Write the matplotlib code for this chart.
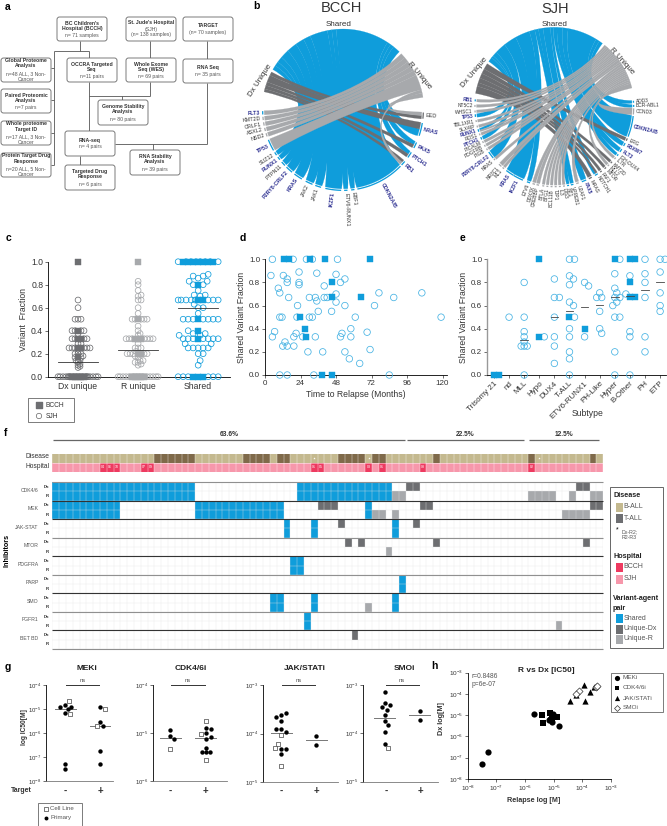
import numpy as np
import matplotlib
matplotlib.use('Agg')
import matplotlib.pyplot as plt
from matplotlib.path import Path
from matplotlib.patches import PathPatch, FancyBboxPatch, Rectangle
from matplotlib.colors import ListedColormap

plt.rcParams['font.family'] = ['Liberation Sans', 'DejaVu Sans']
plt.rcParams['mathtext.default'] = 'regular'
plt.rcParams['axes.linewidth'] = 0.6

W, H = 667, 826
BLUE = '#0f9ddb'
DARK = '#6d6e71'
LIGHT = '#a7a9ac'
TXT = '#333333'
DRIVER = '#2e3192'

# panel a
FLOW_BOXES = [
    (57, 17, 107, 41, 'BC Children\'s\nHospital (BCCH)', 'n= 71 samples'),
    (126, 17, 176, 41, 'St. Jude\'s Hospital', '(SJH)\n(n= 138 samples)'),
    (183, 17, 233, 41, 'TARGET', '(n= 70 samples)'),
    (183, 59, 233, 83, 'RNA Seq', 'n= 35 pairs'),
    (67, 58, 117, 82, 'OCCRA Targeted\nSeq', 'n=11 pairs'),
    (126, 58, 176, 82, 'Whole Exome\nSeq (WES)', 'n= 69 pairs'),
    (98, 100, 148, 125, 'Genome Stability\nAnalysis', 'n= 80 pairs'),
    (1, 58, 51, 82, 'Global Proteome\nAnalysis', 'n=48 ALL, 3 Non-\nCancer'),
    (1, 89, 51, 113, 'Paired Proteomic\nAnalysis', 'n=7 pairs'),
    (1, 121, 51, 145, 'Whole proteome\nTarget ID', 'n=17 ALL, 3 Non-\nCancer'),
    (1, 153, 51, 177, 'Protein Target Drug\nResponse', 'n=20 ALL, 5 Non-\nCancer'),
    (65, 131, 115, 156, 'RNA-seq', 'n= 4 pairs'),
    (65, 165, 115, 190, 'Targeted Drug\nResponse', 'n= 6 pairs'),
    (130, 150, 180, 175, 'RNA Stability\nAnalysis', 'n= 39 pairs'),
]
FLOW_LINES = [
    (80, 41, 80, 51), (54, 51, 89, 51), (89, 51, 89, 58), (54, 51, 54, 165),
    (51, 68, 54, 68), (51, 100, 54, 100), (51, 133, 54, 133), (51, 165, 54, 165),
    (150, 41, 150, 58), (89, 82, 89, 131), (150, 82, 150, 96), (89, 96, 150, 96),
    (122, 96, 122, 100), (115, 144, 207, 144), (207, 41, 207, 59), (207, 83, 207, 144),
    (153, 144, 153, 150), (80, 156, 80, 165),
]

# panel b
BCCH_SECTORS = {'S': (46, 150), 'D': (152, 167), 'R': (9, 44)}
BCCH_GENES = ['FLT3', 'KMT2D', 'CRLF1', 'ASXL2', 'NSD2', 'TP53', 'SUZ12', 'RUNX1', 'PTPN11',
              'P2RY8-CRLF2', 'KRAS', 'JAK2', 'JAK1', 'IKZF1', 'ETV6-RUNX1', 'EBF1', 'CDKN2A/B',
              'RB1', 'PTCH1', 'PAX5', 'NRAS', 'EED']
BCCH_ANGLE = [182, 186, 190, 194, 198, 206, 213, 217, 222, 228, 236, 245, 252, 263, 272, 277, 298,
              318.5, 326, 334, 346, 356]
BCCH_WIDTH = [3, 3, 3, 3, 3, 9, 3, 3, 4, 6, 7, 6, 5, 12, 3, 3, 36, 4, 5, 5, 10, 5]
BCCH_TYPE = ['R', 'R', 'R', 'R', 'R', 'R', 'S', 'S', 'S', 'S', 'S', 'S', 'S', 'S', 'S', 'S', 'S',
             'RD', 'DS', 'DS', 'SD', 'DR']
BCCH_DRIVER = ['FLT3', 'TP53', 'RUNX1', 'P2RY8-CRLF2', 'KRAS', 'IKZF1', 'CDKN2A/B', 'RB1', 'PTCH1',
               'PAX5', 'NRAS']

SJH_SECTORS = {'S': (53, 145), 'D': (147, 170), 'R': (14, 51)}
SJH_GENES = ['RB1', 'NT5C2', 'WHSC1', 'TP53', 'TBL1XR1', 'SLX4IP', 'RUNX1', 'ROS1', 'PTCH1', 'PICALM',
             'PDGFRB', 'PIGB', 'P2RY8-CRLF2', 'NRAS', 'NR3C1', 'ML1', 'KRAS', 'IKZF1', 'ETV6', 'DDX3X',
             'CREBBP', 'BTLA', 'BTG1', 'BCL11B', 'TJP1', 'IL3', 'DIS3', 'NT1', 'VPREB1', 'U2AF1', 'PAX5',
             'MRAS', 'NOTCH1', 'FAF1', 'MTOR', 'MLL2', 'KMT2D', 'IL7R', 'IGH-DUX4', 'FLT3', 'FBXW7',
             'ERG', 'CDKN2A/B', 'CCND3', 'BCR-ABL1', 'ADD3']
SJH_ANGLE = [175, 179, 183, 186, 190, 194, 197, 200, 203, 206, 209, 212, 217, 221, 227, 230, 236, 243,
             251, 255, 258, 262, 265, 268, 271, 274, 277, 280, 283, 287, 292, 297, 302, 306, 310, 313,
             316, 320, 323, 327, 332, 336, 346, 357, 361, 364]
SJH_WIDTH = [2, 2, 2, 2.5, 2, 2, 2.5, 2, 2.5, 2, 2, 2, 6, 2, 3, 2, 7, 8, 3, 2.5, 2.5, 2, 2, 2, 2, 2, 2, 2,
             2.5, 2.5, 4, 3, 3, 2, 2, 2, 2, 2, 2, 3, 3, 2.5, 16, 5, 2, 2]
SJH_TYPE = ['R', 'R', 'R', 'S', 'R', 'R', 'SR', 'R', 'S', 'R', 'R', 'R', 'S', 'R', 'R', 'R', 'S', 'S',
            'S', 'R', 'R', 'R', 'R', 'R', 'R', 'R', 'R', 'S', 'S', 'R', 'S', 'D', 'SD', 'D', 'D', 'R',
            'D', 'R', 'S', 'S', 'S', 'D', 'S', 'R', 'S', 'S']
SJH_DRIVER = ['RB1', 'TP53', 'RUNX1', 'PTCH1', 'P2RY8-CRLF2', 'KRAS', 'IKZF1', 'PAX5', 'FLT3', 'FBXW7',
              'CDKN2A/B']

# panel c
DX_SJH = [0] * 24 + [.08, .09, .1, .11, .125, .14, .14, .167, .167, .18, .2, .2, .2, .22, .25, .25, .25, .25,
                     .25, .25, .286, .286, .33, .33, .33, .33, .375, .4, .4, .4, .4, .5, .5, .5, .6, .667]
DX_BCCH = [1.0, 0, 0, 0, 0, 0, .4, .33, .33, .25, .25, .17]
R_SJH = [0] * 20 + [.1, .11, .125, .125, .14, .14, .167, .18, .2, .2, .2, .2, .2, .22, .25, .25, .25, .29,
                    .33, .33, .33, .33, .33, .33, .33, .36, .375, .4, .44, .5, .5, .5, .5, .5, .55, .6,
                    .667, .667, .7, .71, .75, .8, .83]
R_BCCH = [1.0, 0, 0, 0, 0, 0, .2, .2, .33, .33, .33, .5]
SH_SJH = [0] * 6 + [.1, .14, .2, .2, .25, .25, .25, .25, .25, .286, .286, .33, .33, .33, .33, .33, .33, .33,
                    .36, .36, .375, .375, .4, .5, .5, .5, .5, .5, .5, .5, .55, .6, .6, .63, .667, .667, .667,
                    .667, .667, .667, .667, .667, .7, .71, .71, .75, .8, .8, .83, .83, .857, .875, .875, .89,
                    1, 1, 1, 1, 1, 1, 1, 1]
SH_BCCH = [0, 0, 0, .33, .4, .5, .667, .667, .8, 1, 1, 1, 1, 1, 1, 1]
C_LABELS = ['Dx unique', 'R unique', 'Shared']
C_MEDIAN = [.125, .23, .6]

# panel d
D_MONTHS = [5, 19, 28, 32, 49, 4, 12.4, 15, 15, 9, 10, 16, 23, 23, 23, 35, 48, 51, 54, 40, 30, 34, 35, 40,
            42, 48, 48, 22, 54, 36, 45, 10, 11.5, 21.6, 30, 32, 61, 6.5, 5, 13.5, 12, 15, 19.5, 19.5, 21,
            25.5, 34, 51, 52, 58, 58, 69, 71, 29, 39, 54, 57, 64, 10, 15, 33, 84, 77, 74, 87, 106, 119]
D_FRAC = [1, 1, 1, 1, 1, .86, .86, .83, .8, .75, .71, .67, .89, .8, .78, .88, .87, .8, .83, .77, .67, .67,
          .64, .67, .67, .7, .63, .6, .6, .55, .55, .5, .5, .5, .5, .5, .5, .375, .33, .285, .25, .25, .25,
          .33, .36, .33, .33, .33, .36, .4, .33, .37, .22, .2, .2, .2, .14, .1, 0, 0, 0, 0, .71, .6, .67,
          .71, .5]
D_MONTHS_BCCH = [13, 16, 30.5, 40.5, 71, 23.5, 27, 28, 45, 45.5, 65, 38.5, 45]
D_FRAC_BCCH = [1, 1, 1, 1, 1, .5, .4, .33, .8, .67, .67, 0, 0]

# panel e
E_LABELS = ['Trisomy 21', 'nd', 'MLL', 'Hypo', 'DUX4', 'T-ALL', 'ETV6-RUNX1', 'PH-Like', 'Hyper', 'B-Other',
            'PH', 'ETP']
E_SJH = [[], [.5], [.8, .5, .375, .33, .285, .25, .25, .25, 0], [.33], [.83, .67, .67, .5, .33, .25, .1],
         [1, 1, .857, .83, .78, .63, .6, .5, .4, .33, .2, .14, 0], [.8, .77, .33],
         [.71, .67, .67, .55, .4, .36], [1, .875, .75, .71, .67, .67, .63, .6, .5, .5, .2, 0],
         [.857, .7, .375, .33, 0], [1, .875, .8, .67, .33, .2], [1, 1, .89, .71, .6, .55]]
E_BCCH = [[0, 0], [], [], [1, .33], [], [.5], [.4], [], [1], [1, 1, .8, .67, .67], [], []]
E_MEDIAN = [None, None, .3, None, .5, .55, .59, .605, .67, .68, .735, .8]

# panel f
N_COLS = 81
T_ALL_COLS = [15, 16, 17, 18, 19, 20, 28, 29, 30, 31, 33, 34, 42, 43, 44, 45, 47, 48, 56, 70, 79]
STAR_COLS = [38, 46, 71]
BCCH_COLS = [7, 8, 9, 13, 14, 38, 39, 46, 48, 54, 70]
BCCH_IDS = ['04', '06', '10', '07', '09', '01', '05', '03', '01', '08', '02']
AGENTS = ['CDK4/6', 'MEK', 'JAK-STAT', 'MTOR', 'PDGFRA', 'PARP', 'SMO', 'FGFR1', 'BET BD']
SHARED_COLS = {'CDK4/6': list(range(0, 21)) + list(range(36, 50)),
               'MEK': list(range(0, 10)) + list(range(21, 34)) + [46],
               'JAK-STAT': [34, 38, 50], 'PDGFRA': [35, 36], 'PARP': [51],
               'SMO': [32, 33, 38, 50], 'FGFR1': [37]}
DX_COLS = {'CDK4/6': [52, 53, 77, 78], 'MEK': [39, 40, 41, 54, 55, 79, 80], 'JAK-STAT': [42, 53],
           'MTOR': [43, 45, 56, 78], 'BET BD': [44]}
R_COLS = {'CDK4/6': [50, 51, 70, 71, 72, 73, 76, 79, 80], 'MEK': [47, 48, 50, 75, 76, 77, 78],
          'MTOR': [49], 'SMO': [46], 'FGFR1': [74]}
BRACKET_TEXT = ['63.6%', '22.5%', '12.5%']
BRACKET_COLS = [(0, 52), (52, 69.5), (70, 80.5)]

# panel g, log10 of IC50
G_TITLES = ['MEKi', 'CDK4/6i', 'JAK/STATi', 'SMOi']
G_PRIM_NEG = [[-4.82, -5.0, -4.93, -4.93, -5.18, -7.3, -7.51],
              [-4.94, -5.06, -5.125],
              [-3.62, -3.58, -3.66, -3.75, -3.91, -3.96, -3.9, -4.31, -4.31, -4.42],
              [-3.14, -3.37, -3.41, -3.46, -3.52, -3.63, -3.74, -3.83, -3.98, -4.21]]
G_CELL_NEG = [[-4.68, -5.22], [-5.33], [-4.03, -4.22, -4.3, -4.68], [-4.3]]
G_PRIM_POS = [[-4.9, -5.53, -5.7, -6.75, -7.3],
              [-4.89, -4.92, -5.0, -5.13, -5.09, -5.32, -5.4, -5.4, -5.4],
              [-4.06, -4.23], [-3.54, -3.73]]
G_CELL_POS = [[-5.01, -5.72], [-4.74, -5.03, -5.57], [], []]
G_MED_NEG = [-5.0, -5.1, -3.99, -3.69]
G_MED_POS = [-5.7, -5.11, -4.14, -3.62]

# panel h, log10 of IC50
H_MEK_X = [-7.51, -7.29, -5.7, -5.17, -5.07, -5.01, -4.83, -5.12]
H_MEK_Y = [-7.29, -6.73, -4.93, -5.23, -5.3, -4.94, -5.52, -5.2]
H_CDK_X = [-5.41, -5.38, -5.13, -5.05, -4.9]
H_CDK_Y = [-5.0, -5.38, -4.91, -5.18, -5.07]
H_JAK_X = [-4.42, -4.22, -3.91, -3.94, -3.74, -3.59]
H_JAK_Y = [-4.32, -4.07, -4.32, -3.6, -3.89, -3.66]
H_SMO_X = [-4.1, -4.22, -3.53, -3.48]
H_SMO_Y = [-3.85, -4.0, -3.69, -3.61]

fig = plt.figure(figsize=(W / 100, H / 100), dpi=100)


def ax_px(x0, y0, x1, y1):
    return fig.add_axes([x0 / W, 1 - y1 / H, (x1 - x0) / W, (y1 - y0) / H])


ov = fig.add_axes([0, 0, 1, 1], zorder=5)
ov.set_xlim(0, W)
ov.set_ylim(H, 0)
ov.axis('off')
ov.patch.set_alpha(0)


def label(x, y, s, size=5.8, **kw):
    kw.setdefault('ha', 'center')
    kw.setdefault('va', 'center')
    kw.setdefault('color', TXT)
    ov.text(x, y, s, fontsize=size, **kw)


for x, y, s in [(8, 7, 'a'), (256, 6, 'b'), (8, 238, 'c'), (243, 238, 'd'), (463, 238, 'e'),
                (6, 433, 'f'), (8, 667, 'g'), (434, 666, 'h')]:
    label(x, y, s, size=7.5, fontweight='bold', color='black')

# a
for x0, y0, x1, y1 in [ln[:4] for ln in FLOW_LINES]:
    ov.plot([x0, x1], [y0, y1], color='#555555', lw=0.6, solid_capstyle='butt')
for x0, y0, x1, y1, head, sub in FLOW_BOXES:
    ov.add_patch(FancyBboxPatch((x0, y0), x1 - x0, y1 - y0, boxstyle='round,pad=0,rounding_size=2.5',
                                fc='white', ec='#666666', lw=0.6, zorder=3))
    n_head = head.count('\n') + 1
    n_sub = sub.count('\n') + 1
    top = (y0 + y1) / 2 - (n_head + n_sub) * 3.3
    label((x0 + x1) / 2, top + n_head * 3.3, head, size=3.7, fontweight='bold', zorder=4, linespacing=1.05)
    label((x0 + x1) / 2, top + n_head * 6.6 + n_sub * 3.3, sub, size=3.7, zorder=4, linespacing=1.05,
          color='#555555')


# b
def pt(cx, cy, r, a):
    t = np.radians(a)
    return cx + r * np.cos(t), cy - r * np.sin(t)


def arc_pts(cx, cy, r, a0, a1):
    return [pt(cx, cy, r, a) for a in np.linspace(a0, a1, 16)]


def chord(cx, cy, R, sectors, genes, angles, widths, types, drivers, tsize, flare):
    segs = {'S': [], 'D': [], 'R': []}
    for g, a, w, t in zip(genes, angles, widths, types):
        step = w / len(t)
        for i, k in enumerate(t):
            segs[k].append((a - w / 2 + i * step, a - w / 2 + (i + 1) * step, g))
    colors = {'S': BLUE, 'D': DARK, 'R': LIGHT}
    rin = R - 2.2
    for k in ['S', 'D', 'R']:
        s0, s1 = sectors[k]
        total = sum(b - a for a, b, _ in segs[k])
        cur = s1
        # the shared ribbons flare out right behind the ring so they merge into one blue field
        spread = flare if k == 'S' else 0.8
        rg = 0.62 * R if k == 'S' else 0.42 * R
        for g0, g1, _ in sorted(segs[k], key=lambda q: q[0]):
            d = (g1 - g0) / total * (s1 - s0)
            low, high = cur - d, cur
            cur = low
            gp = arc_pts(cx, cy, rin, g0, g1)
            sp = arc_pts(cx, cy, R, low, high)
            verts = gp + [pt(cx, cy, rg, g1 + spread), pt(cx, cy, 0.42 * R, low), sp[0]] + sp[1:] \
                + [pt(cx, cy, 0.42 * R, high), pt(cx, cy, rg, g0 - spread), gp[0], gp[0]]
            codes = [Path.MOVETO] + [Path.LINETO] * (len(gp) - 1) + [Path.CURVE4] * 3 \
                + [Path.LINETO] * (len(sp) - 1) + [Path.CURVE4] * 3 + [Path.CLOSEPOLY]
            ov.add_patch(PathPatch(Path(verts, codes), fc=colors[k], ec=colors[k], lw=0.15))
    for g, a, w, t in zip(genes, angles, widths, types):
        g0, g1 = a - w / 2 + 0.3, a + w / 2 - 0.3
        col = BLUE if g in drivers else colors[t[0]]
        ring = arc_pts(cx, cy, R, g0, g1) + arc_pts(cx, cy, R - 1.3, g1, g0)
        ov.fill(*zip(*ring), color=col, lw=0)
        x, y = pt(cx, cy, R + 1.5, a)
        left = 90 < (a % 360) < 270
        rot = a - 180 if left else a
        drv = g in drivers
        ov.text(x, y, g, fontsize=tsize, rotation=rot, rotation_mode='anchor', va='center',
                ha='right' if left else 'left', color=DRIVER if drv else TXT,
                fontweight='bold' if drv else 'normal')


chord(343, 110, 81, BCCH_SECTORS, BCCH_GENES, BCCH_ANGLE, BCCH_WIDTH, BCCH_TYPE, BCCH_DRIVER, 3.9, 4)
chord(554.3, 107.3, 80, SJH_SECTORS, SJH_GENES, SJH_ANGLE, SJH_WIDTH, SJH_TYPE, SJH_DRIVER, 3.5, 2.5)
label(341.7, 8, 'BCCH', size=10.5)
label(555, 9, 'SJH', size=10.5)
label(339, 24, 'Shared', size=5.8)
label(555, 24, 'Shared', size=5.8)
label(260.7, 80, 'Dx Unique', size=5.8, rotation=57)
label(419, 75, 'R Unique', size=5.8, rotation=-50)
label(474, 72, 'Dx Unique', size=5.8, rotation=50)
label(621.7, 61, 'R Unique', size=5.8, rotation=-48)


def style(ax, size=5.8):
    for s in ['top', 'right']:
        ax.spines[s].set_visible(False)
    ax.patch.set_alpha(0)
    ax.tick_params(length=2, width=0.5, labelsize=size, pad=1.5, colors=TXT)


def swarm(values, px_per_unit, d, limit):
    placed = []
    out = []
    cand = [0]
    for k in range(1, int(limit) + 1):
        cand += [k, -k]
    for v in values:
        best, best_dist = 0, -1
        for c in cand:
            dist = min([np.hypot(c - ox, (v - oy) * px_per_unit) for ox, oy in placed] or [99])
            if dist >= d:
                best, best_dist = c, dist
                break
            if dist > best_dist:
                best, best_dist = c, dist
        placed.append((best, v))
        out.append(best)
    return np.array(out, dtype=float)


# c
axc = ax_px(48, 261.7, 230, 376.7)
axc.set_xlim(-0.5, 2.53)
axc.set_ylim(0, 1)
px_unit = 60.0
SERIES_C = [(DX_SJH, DX_BCCH, DARK, 2.2), (R_SJH, R_BCCH, LIGHT, 2.6), (SH_SJH, SH_BCCH, BLUE, 5.0)]
for i, (sjh, bcch, col, gap) in enumerate(SERIES_C):
    both = list(bcch) + list(sjh)
    off = swarm(both, 115, gap, 20) / px_unit
    nb = len(bcch)
    axc.scatter(i + off[nb:], sjh, s=17, fc='none', ec=col, lw=0.55, clip_on=False, zorder=3)
    axc.scatter(i + off[:nb], bcch, s=17, marker='s', fc=col, ec=col, lw=0.3, clip_on=False, zorder=4)
    axc.plot([i - 20 / px_unit, i + 20 / px_unit], [C_MEDIAN[i]] * 2, color='#333333', lw=0.6, zorder=5)
axc.set_xticks(range(3))
axc.set_xticklabels(C_LABELS)
axc.set_yticks(np.arange(0, 1.01, 0.2))
axc.set_ylabel('Variant  Fraction', fontsize=6.2, labelpad=2, color=TXT)
style(axc, 6.2)
axc.tick_params(axis='x', length=0, pad=4)

ov.add_patch(Rectangle((28, 398), 46, 24, fc='white', ec='#666666', lw=0.6))
ov.scatter([39], [405], s=15, marker='s', fc=DARK, ec=DARK)
ov.scatter([39], [416], s=15, fc='none', ec='#666666', lw=0.5)
label(46, 405.5, 'BCCH', size=4.8, ha='left')
label(46, 416.5, 'SJH', size=4.8, ha='left')

# d
axd = ax_px(265, 259.3, 447, 375)
axd.set_xlim(0, 123)
axd.set_ylim(0, 1)
axd.scatter(D_MONTHS, D_FRAC, s=22, fc='none', ec='#45b2e3', lw=0.55, clip_on=False, zorder=3)
axd.scatter(D_MONTHS_BCCH, D_FRAC_BCCH, s=21, marker='s', fc=BLUE, ec=BLUE, lw=0.3, clip_on=False, zorder=4)
axd.set_xticks([0, 24, 48, 72, 96, 120])
axd.set_yticks(np.arange(0, 1.01, 0.2))
axd.set_xlabel('Time to Relapse (Months)', fontsize=6.2, labelpad=2.5, color=TXT)
axd.set_ylabel('Shared Variant Fraction', fontsize=6.2, labelpad=2, color=TXT)
style(axd, 5.8)

# e
axe = ax_px(487, 259.3, 666, 375)
axe.set_xlim(-0.46, 11.39)
axe.set_ylim(0, 1)
for i in range(12):
    both = list(E_BCCH[i]) + list(E_SJH[i])
    off = swarm(both, 115, 5, 6) / 15.1
    nb = len(E_BCCH[i])
    if E_SJH[i]:
        axe.scatter(i + off[nb:], E_SJH[i], s=22, fc='none', ec='#45b2e3', lw=0.55, clip_on=False, zorder=3)
    if nb:
        axe.scatter(i + off[:nb], E_BCCH[i], s=22, marker='s', fc=BLUE, ec=BLUE, lw=0.3, clip_on=False, zorder=4)
    if E_MEDIAN[i] is not None:
        axe.plot([i - 0.25, i + 0.25], [E_MEDIAN[i]] * 2, color='#444444', lw=0.6, zorder=5)
axe.set_xticks(range(12))
axe.set_xticklabels(E_LABELS, rotation=45, ha='right', rotation_mode='anchor')
axe.set_yticks(np.arange(0, 1.01, 0.2))
axe.set_ylabel('Shared Variant Fraction', fontsize=6.2, labelpad=2, color=TXT)
axe.spines['left'].set_color('#999999')
axe.spines['left'].set_linewidth(1.0)
style(axe, 5.8)
label(588, 414, 'Subtype', size=6.2)

# f
X0, X1 = 52.3, 603.3
CW = (X1 - X0) / N_COLS
for (c0, c1), s in zip(BRACKET_COLS, BRACKET_TEXT):
    ov.plot([X0 + c0 * CW + 1, X0 + c1 * CW - 1], [440, 440], color='#666666', lw=0.9, solid_capstyle='butt')
    label(X0 + (c0 + c1) / 2 * CW, 434.5, s, size=4.8, fontweight='bold')

axh1 = ax_px(X0, 453.5, X1, 471.5)
top = np.zeros((2, N_COLS))
top[0, T_ALL_COLS] = 1
top[1, :] = 2
top[1, BCCH_COLS] = 3
axh1.pcolormesh(top, cmap=ListedColormap(['#c4b98f', '#7f6a4a', '#f797ab', '#ee3a60']), vmin=0, vmax=3)
axh1.vlines(range(N_COLS + 1), 0, 2, color='white', lw=0.35, alpha=0.75)
axh1.hlines(1, 0, N_COLS, color='white', lw=0.4, alpha=0.8)
axh1.set_ylim(2, 0)
axh1.axis('off')
for c in STAR_COLS:
    axh1.plot(c + 0.5, 0.5, marker='*', ms=1.8, color='white', mew=0)
for c, s in zip(BCCH_COLS, BCCH_IDS):
    axh1.text(c + 0.5, 1.5, s, fontsize=2.6, color='white', ha='center', va='center')
label(49, 457, 'Disease', size=4.8, ha='right')
label(49, 467, 'Hospital', size=4.8, ha='right')

heat = np.zeros((18, N_COLS))
for i, a in enumerate(AGENTS):
    heat[2 * i, SHARED_COLS.get(a, [])] = 1
    heat[2 * i + 1, SHARED_COLS.get(a, [])] = 1
    heat[2 * i, DX_COLS.get(a, [])] = 2
    heat[2 * i + 1, R_COLS.get(a, [])] = 3
axh2 = ax_px(X0, 482, X1, 649)
axh2.pcolormesh(heat, cmap=ListedColormap(['white', BLUE, DARK, LIGHT]), vmin=0, vmax=3)
axh2.vlines(range(N_COLS + 1), 0, 18, color='#e4e4e4', lw=0.35, alpha=0.75)
axh2.hlines(range(19), 0, N_COLS, color='#e4e4e4', lw=0.35, alpha=0.75)
axh2.set_ylim(18, 0)
axh2.axis('off')
for i in range(10):
    axh2.plot([0, N_COLS], [2 * i, 2 * i], color='#333333' if i in (1, 2, 4, 6, 8) else '#909090', lw=0.8,
              clip_on=False, solid_capstyle='butt')
for i, a in enumerate(AGENTS):
    y = 482 + 18.55 * i
    label(38.5, y + 8, a, size=3.7, ha='right', color='#555555')
    label(49, y + 4.7, 'Dx', size=3.2, ha='right', fontweight='bold')
    label(49, y + 14, 'R', size=3.2, ha='right', fontweight='bold')
label(7, 550, 'Inhibitors', size=5.2, fontweight='bold', rotation=90, color='black')

ov.add_patch(Rectangle((609.5, 487), 53.5, 161, fc='white', ec='#666666', lw=0.7))
for y, col in [(507, '#c4b98f'), (518, DARK), (567, '#ee3a60'), (579, '#f797ab'),
               (618, BLUE), (629, DARK), (639, LIGHT)]:
    ov.add_patch(Rectangle((615.5, y - 4.5), 7, 9, fc=col, ec='none'))
for y, s in [(495.5, 'Disease'), (556, 'Hospital'), (599, 'Variant-agent'), (608, 'pair')]:
    label(613, y, s, size=5.2, ha='left', fontweight='bold', color='#222222')
for y, s in [(507, 'B-ALL'), (518, 'T-ALL'), (567, 'BCCH'), (579, 'SJH'), (618, 'Shared'), (629, 'Unique-Dx'),
             (639, 'Unique-R')]:
    label(623.5, y, s, size=5, ha='left', color='#555555')
label(617, 530, '*', size=5, color='black')
label(622, 535, 'Dx-R2;\nR2-R3', size=3.8, ha='left', color='#555555')

# g
G_BOX = [(46, 685, 113, 781, -8, -4), (152.7, 685, 227, 781, -6, -4),
         (263, 685, 337.7, 782, -5, -3), (363, 685, 437.7, 781.7, -5, -3)]
G_NEG_X = [65, 170, 281, 384.5]
G_POS_X = [100, 205.7, 316, 420]
G_TITLE_X = [87, 191, 305, 404.7]
for i in range(4):
    x0, y0, x1, y1, lo, hi = G_BOX[i]
    ax = ax_px(x0, y0, x1, y1)
    ax.set_xlim(x0, x1)
    ax.set_ylim(lo, hi)
    per = (y1 - y0) / (hi - lo)
    for cx, prim, cell, med in [(G_NEG_X[i], G_PRIM_NEG[i], G_CELL_NEG[i], G_MED_NEG[i]),
                                (G_POS_X[i], G_PRIM_POS[i], G_CELL_POS[i], G_MED_POS[i])]:
        ax.plot([cx - 10.5, cx + 10.5], [med, med], color='#777777', lw=0.7, zorder=2)
        both = list(prim) + list(cell)
        off = swarm(both, per, 5, 6)
        ax.scatter(cx + off[:len(prim)], prim, s=10, color='black', lw=0, zorder=3, clip_on=False)
        if cell:
            ax.scatter(cx + off[len(prim):], cell, s=9, marker='s', fc='white', ec='#444444', lw=0.5,
                       zorder=4, clip_on=False)
    ax.plot([G_NEG_X[i] + 1, G_POS_X[i] - 1], [hi, hi], color='#333333', lw=0.7, clip_on=False)
    ax.text((G_NEG_X[i] + G_POS_X[i]) / 2, hi + 1.5 / per, 'ns', fontsize=4.2, ha='center', va='bottom',
            color='#555555')
    ax.set_xticks([])
    ax.set_yticks(range(lo, hi + 1))
    ax.set_yticklabels(['$10^{%d}$' % v for v in range(lo, hi + 1)])
    style(ax, 4.3)
    ax.spines['bottom'].set_color('#777777')
    label(G_TITLE_X[i], 669, G_TITLES[i], size=6, fontweight='bold', color='#222222')
    label(G_NEG_X[i] + (2 if i == 3 else 0), 790.7, '-', size=7, fontweight='bold')
    label(G_POS_X[i], 790.7, '+', size=7, fontweight='bold')
label(32, 790.7, 'Target', size=5, fontweight='bold', ha='right')
label(24, 727, 'log IC50[M]', size=4.8, fontweight='bold', rotation=90)
ov.add_patch(Rectangle((38, 803), 44, 22.5, fc='white', ec='#666666', lw=0.6))
ov.scatter([45.5], [808.5], s=7, marker='s', fc='white', ec='#444444', lw=0.5)
ov.scatter([45.5], [818], s=8, color='black', lw=0)
label(50.5, 808.5, 'Cell Line', size=4.4, ha='left', color='#555555')
label(50.5, 818, 'Primary', size=4.4, ha='left', color='#555555')

# h
axp = ax_px(467.7, 672.7, 611, 779)
axp.set_xlim(-8, -3)
axp.set_ylim(-8, -3)
axp.scatter(H_MEK_X, H_MEK_Y, s=20, color='black', lw=0, clip_on=False)
axp.scatter(H_CDK_X, H_CDK_Y, s=17, marker='s', color='black', lw=0, clip_on=False)
axp.scatter(H_JAK_X, H_JAK_Y, s=20, marker='^', color='black', lw=0, clip_on=False)
axp.scatter(H_SMO_X, H_SMO_Y, s=13, marker='D', fc='white', ec='#333333', lw=0.5, clip_on=False, zorder=4)
axp.set_xticks(range(-8, -2))
axp.set_yticks(range(-8, -2))
axp.set_xticklabels(['$10^{%d}$' % v for v in range(-8, -2)])
axp.set_yticklabels(['$10^{%d}$' % v for v in range(-8, -2)])
style(axp, 4.6)
label(471.5, 676, 'r=0.8486', size=4.8, ha='left', color='#555555')
label(471.5, 685, 'p=6e-07', size=4.8, ha='left', color='#555555')
label(546.7, 670.5, 'R vs Dx [IC50]', size=6, fontweight='bold', color='#222222')
label(534, 801, 'Relapse log [M]', size=5.2, fontweight='bold')
label(441.7, 719, 'Dx log[M]', size=5.2, fontweight='bold', rotation=90)
ov.add_patch(Rectangle((610.7, 672.7), 52.3, 39.5, fc='white', ec='#666666', lw=0.6))
for y, m, s, name in [(677.5, 'o', 14, 'MEKi'), (687.5, 's', 12, 'CDK4/6i'), (698, '^', 14, 'JAK/STATi')]:
    ov.scatter([617], [y], s=s, marker=m, color='black', lw=0)
    label(622.5, y, name, size=4.6, ha='left', color='#555555')
ov.scatter([617], [707.5], s=9, marker='D', fc='white', ec='#333333', lw=0.5)
label(622.5, 707.5, 'SMOi', size=4.6, ha='left', color='#555555')

fig.savefig('out.png', dpi=100)
